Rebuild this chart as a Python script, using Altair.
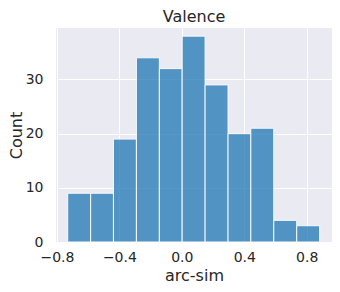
import altair as alt
import pandas as pd

bin_edges = [-0.731, -0.584, -0.438, -0.291, -0.144, 0.002, 0.149, 0.296, 0.442, 0.589, 0.736, 0.883]
counts = [9, 9, 19, 34, 32, 38, 29, 20, 21, 4, 3]
x_ticks = [-0.8, -0.4, 0.0, 0.4, 0.8]
y_ticks = [0, 10, 20, 30]

df = pd.DataFrame({
    "start": bin_edges[:-1],
    "end": bin_edges[1:],
    "count": counts,
})

font = "DejaVu Sans"
bars = alt.Chart(df).mark_rect(
    color="#1f77b4", opacity=0.75, stroke="white", strokeWidth=1, strokeOpacity=1
).encode(
    x=alt.X("start:Q", scale=alt.Scale(domain=[-0.806, 0.962], nice=False, zero=False),
            axis=alt.Axis(values=x_ticks, format=".1f", title="arc-sim")),
    x2="end:Q",
    y=alt.Y("count:Q", scale=alt.Scale(domain=[0, 39.5], nice=False),
            axis=alt.Axis(values=y_ticks, title="Count")),
    y2=alt.datum(0),
)

chart = bars.properties(
    width=276, height=214,
    title=alt.TitleParams("Valence", font=font, fontSize=16, fontWeight="normal",
                          color="#262626", offset=3),
    autosize=alt.AutoSizeParams(type="none"),
    padding={"left": 48, "top": 20, "right": 0, "bottom": 42},
).configure_view(
    fill="#EAEAF2", stroke=None
).configure_axis(
    grid=True, gridColor="white", gridWidth=1, domain=False, ticks=False,
    labelFont=font, labelFontSize=14, labelColor="#262626", labelFlush=False,
    labelOverlap=False,
    titleFont=font, titleFontSize=16, titleFontWeight="normal", titleColor="#262626",
).configure_axisX(
    labelPadding=8, titlePadding=3
).configure_axisY(
    labelPadding=13, titlePadding=1
)

chart.save("out.html", embed_options={"renderer": "svg", "actions": False})
